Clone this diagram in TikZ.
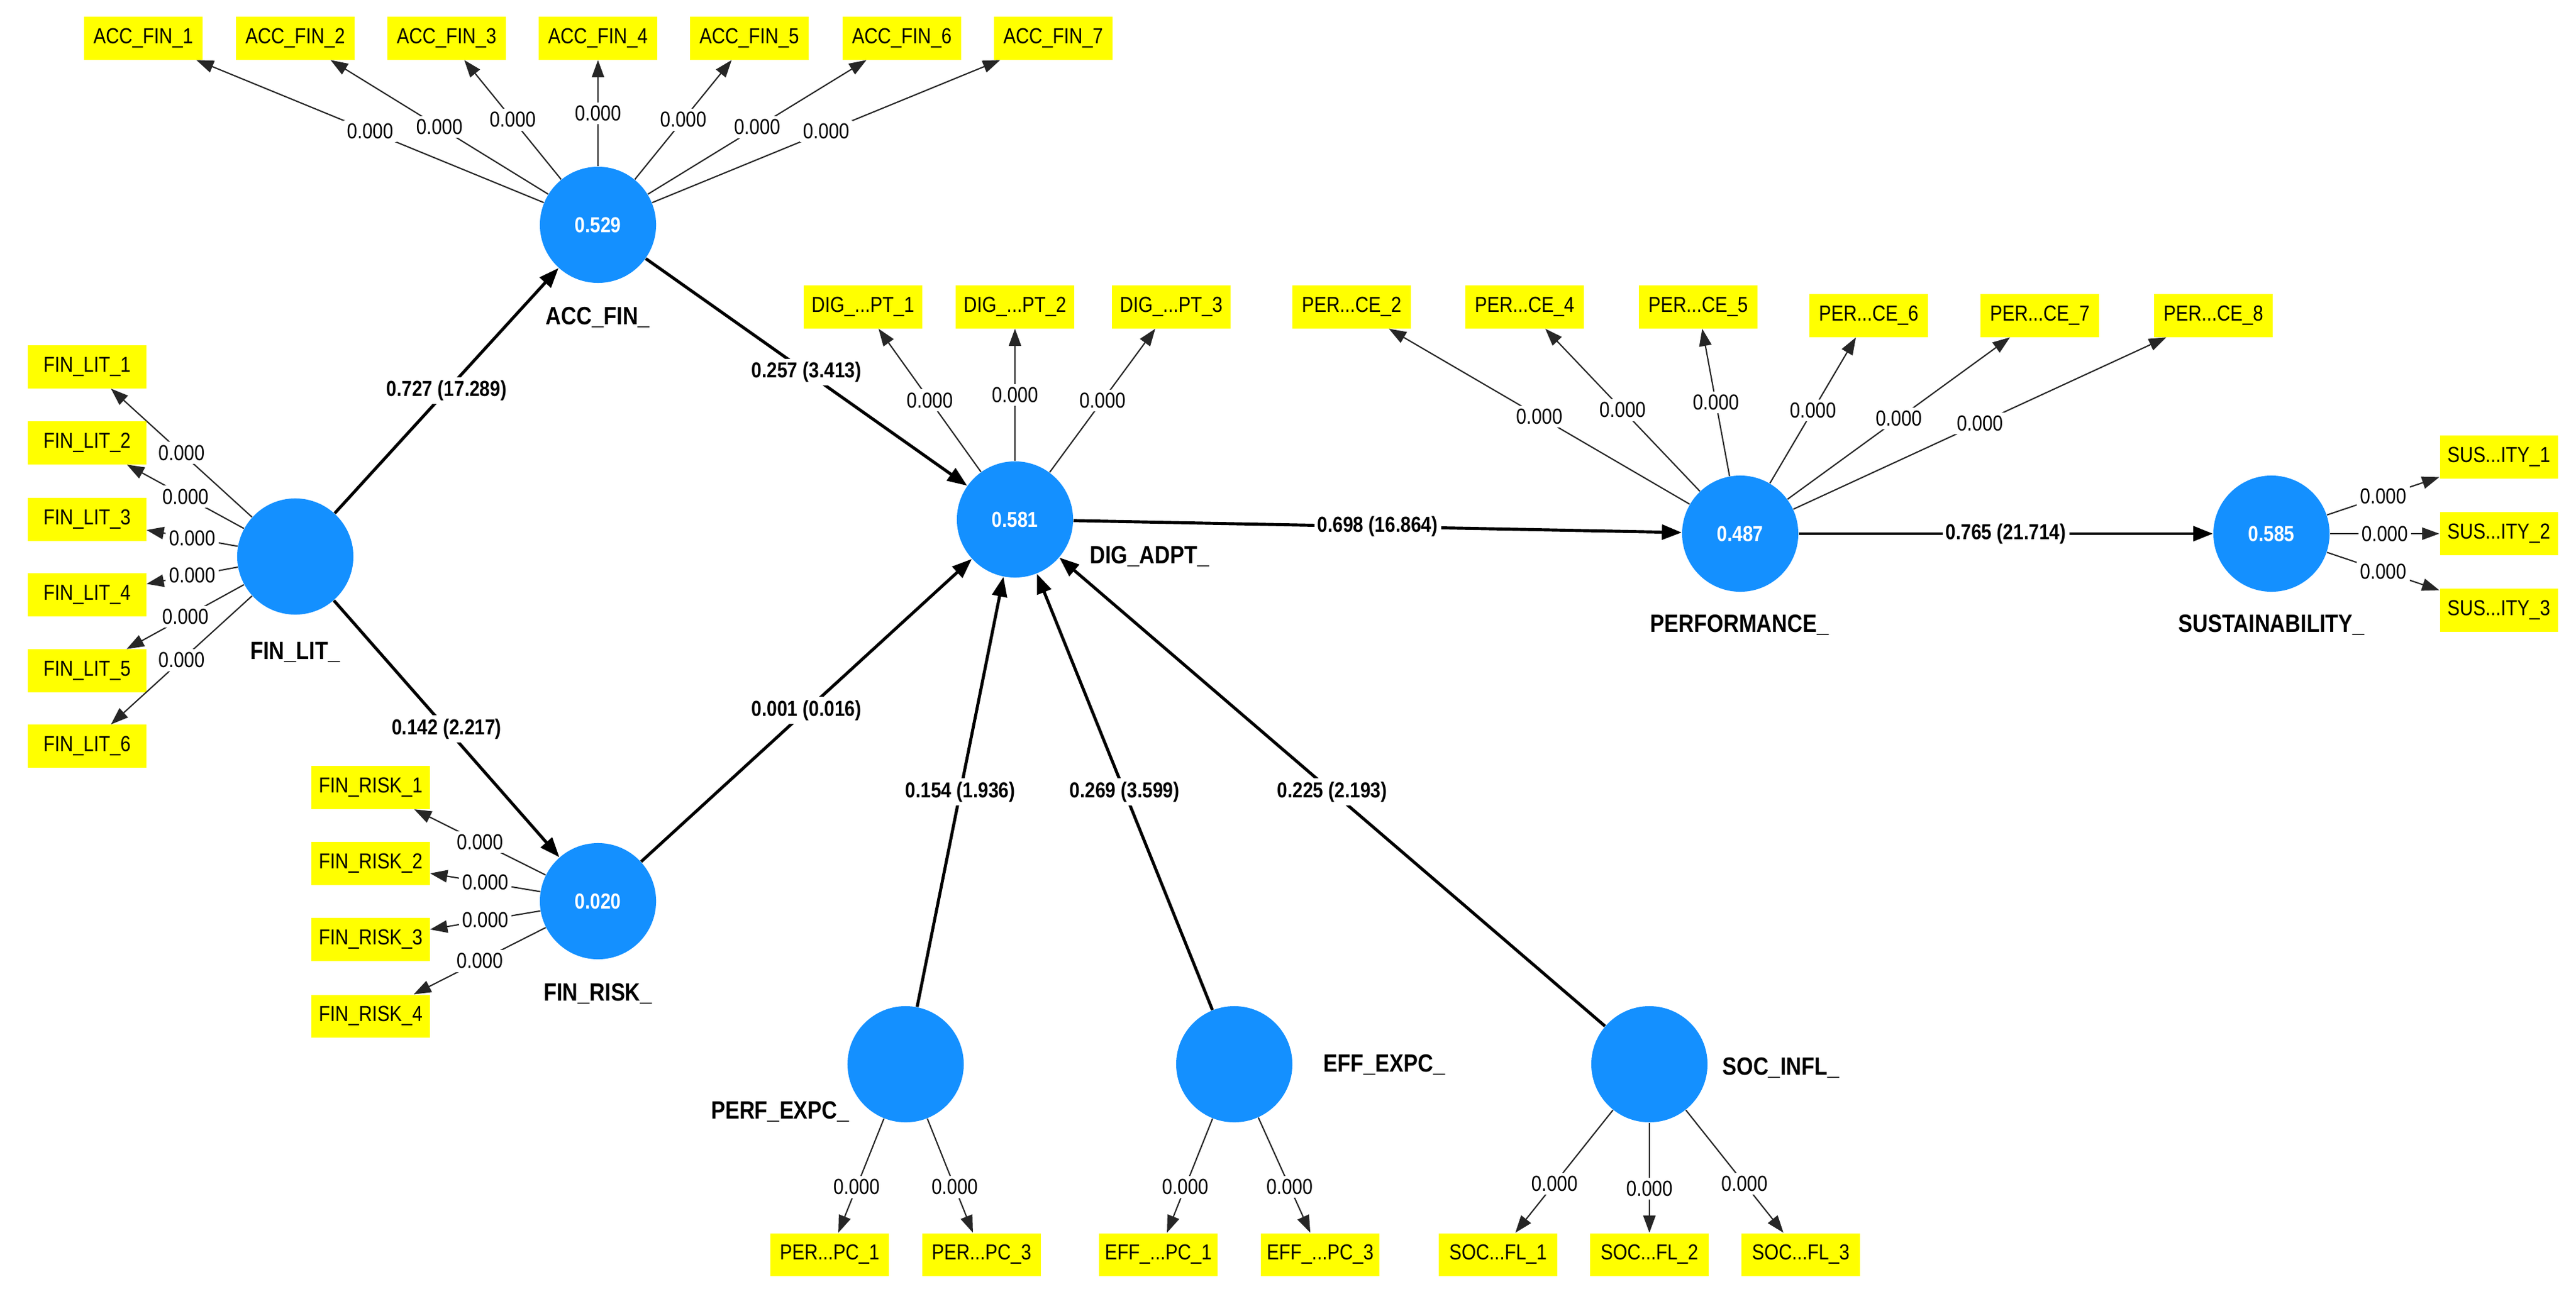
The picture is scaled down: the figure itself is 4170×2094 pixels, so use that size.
\documentclass[tikz,border=0pt]{standalone}
\usepackage{fontspec}
\setmainfont{Liberation Sans}[FakeStretch=0.85]
\usetikzlibrary{arrows.meta}
\definecolor{lvblue}{RGB}{20,144,255}
\definecolor{boxyellow}{RGB}{255,255,0}
\begin{document}
\begin{tikzpicture}[x=0.01cm,y=-0.01cm,
  lv/.style={circle,fill=lvblue,minimum size=1.88cm,inner sep=0pt,text=white,font=\fontsize{10}{12}\selectfont\bfseries},
  ind/.style={rectangle,fill=boxyellow,minimum width=1.91cm,minimum height=0.69cm,inner sep=1pt,font=\fontsize{10}{12}\selectfont},
  cname/.style={font=\fontsize{11.5}{13}\selectfont\bfseries},
  load/.style={draw=black!85,line width=0.6pt,-{Triangle[length=0.28cm,width=0.2cm]}},
  path/.style={draw=black,line width=1.4pt,-{Triangle[length=0.32cm,width=0.24cm]}},
  lbl/.style={fill=white,inner sep=1.5pt,font=\fontsize{10}{12}\selectfont},
  plbl/.style={fill=white,inner sep=1.5pt,font=\fontsize{10}{12}\selectfont\bfseries}]
\useasboundingbox (0,0) rectangle (4170,2094);
\fill[white] (0,0) rectangle (4170,2094);
% latent variables
\node[lv] (acc) at (968,364) {0.529};
\node[lv] (lit) at (478,901) {};
\node[lv] (risk) at (968,1459) {0.020};
\node[lv] (dig) at (1643,841) {0.581};
\node[lv] (perf) at (1466,1723) {};
\node[lv] (eff) at (1998,1723) {};
\node[lv] (soc) at (2670,1723) {};
\node[lv] (pfm) at (2817,864) {0.487};
\node[lv] (sus) at (3677,864) {0.585};
% construct names
\node[cname] (accn) at (968,514) {ACC\_FIN\_};
\node[cname] (litn) at (478,1056) {FIN\_LIT\_};
\node[cname] (riskn) at (968,1609) {FIN\_RISK\_};
\node[cname] (dign) at (1861,901) {DIG\_ADPT\_};
\node[cname] (perfn) at (1263,1800) {PERF\_EXPC\_};
\node[cname] (effn) at (2241,1724) {EFF\_EXPC\_};
\node[cname] (socn) at (2883,1729) {SOC\_INFL\_};
\node[cname] (pfmn) at (2816,1012) {PERFORMANCE\_};
\node[cname] (susn) at (3677,1012) {SUSTAINABILITY\_};
% indicators
\foreach \i/\x in {1/232,2/478,3/723,4/968,5/1213,6/1460,7/1705}
  {\node[ind] (acc\i) at (\x,62) {ACC\_FIN\_\i};
   \draw[load] (acc) -- node[lbl]{0.000} (acc\i);}
\foreach \i/\y in {1/594,2/717,3/841,4/963,5/1086,6/1208}
  {\node[ind] (lit\i) at (141,\y) {FIN\_LIT\_\i};
   \draw[load] (lit) -- node[lbl]{0.000} (lit\i);}
\foreach \i/\y in {1/1275,2/1398,3/1521,4/1645}
  {\node[ind] (risk\i) at (600,\y) {FIN\_RISK\_\i};
   \draw[load] (risk) -- node[lbl]{0.000} (risk\i);}
\foreach \i/\x in {1/1397,2/1643,3/1896}
  {\node[ind] (dig\i) at (\x,497) {DIG\_...PT\_\i};
   \draw[load] (dig) -- node[lbl]{0.000} (dig\i);}
\foreach \n/\x/\y in {2/2188/497,4/2468/497,5/2749/497,6/3025/511,7/3302/511,8/3583/511}
  {\node[ind] (pfm\n) at (\x,\y) {PER...CE\_\n};
   \draw[load] (pfm) -- node[lbl]{0.000} (pfm\n);}
\foreach \i/\y in {1/740,2/864,3/988}
  {\node[ind] (sus\i) at (4045,\y) {SUS...ITY\_\i};
   \draw[load] (sus) -- node[lbl]{0.000} (sus\i);}
\foreach \i/\x in {1/1343,3/1589}
  {\node[ind] (perf\i) at (\x,2031) {PER...PC\_\i};
   \draw[load] (perf) -- node[lbl,pos=0.6]{0.000} (perf\i);}
\foreach \i/\x in {1/1875,3/2137}
  {\node[ind] (eff\i) at (\x,2031) {EFF\_...PC\_\i};
   \draw[load] (eff) -- node[lbl,pos=0.6]{0.000} (eff\i);}
\foreach \i/\x in {1/2425,2/2670,3/2915}
  {\node[ind] (soc\i) at (\x,2031) {SOC...FL\_\i};
   \draw[load] (soc) -- node[lbl,pos=0.6]{0.000} (soc\i);}
% structural paths
\draw[path] (lit) -- node[plbl]{0.727 (17.289)} (acc);
\draw[path] (lit) -- node[plbl]{0.142 (2.217)} (risk);
\draw[path] (acc) -- node[plbl]{0.257 (3.413)} (dig);
\draw[path] (risk) -- node[plbl]{0.001 (0.016)} (dig);
\draw[path] (perf) -- node[plbl]{0.154 (1.936)} (dig);
\draw[path] (eff) -- node[plbl]{0.269 (3.599)} (dig);
\draw[path] (soc) -- node[plbl]{0.225 (2.193)} (dig);
\draw[path] (dig) -- node[plbl]{0.698 (16.864)} (pfm);
\draw[path] (pfm) -- node[plbl]{0.765 (21.714)} (sus);
\end{tikzpicture}
\end{document}
